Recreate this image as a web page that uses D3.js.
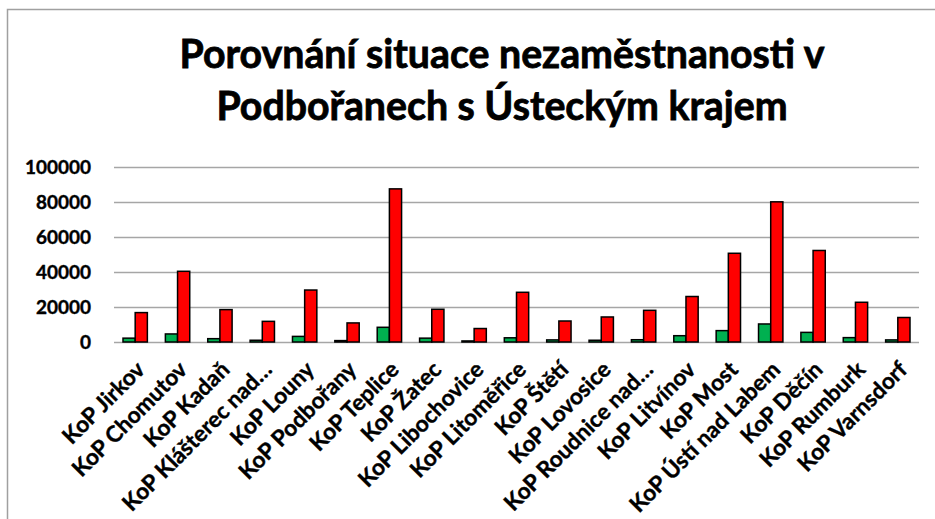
<!DOCTYPE html>
<html>
<head>
<meta charset="utf-8">
<script src="https://cdn.jsdelivr.net/npm/d3@7"></script>
<style>
  body { margin: 0; background: #fff; }
  svg { display: block; font-family: Lato, "Open Sans", sans-serif; font-weight: bold; }
  .grid line { stroke: #a6a6a6; stroke-width: 1.6; }
  .grid path { display: none; }
</style>
</head>
<body>
<div id="chart"></div>
<script>
// categories and the two series (Podbořany vs Ústecký kraj)
var categories = ["KoP Jirkov", "KoP Chomutov", "KoP Kadaň", "KoP Klášterec nad…", "KoP Louny",
  "KoP Podbořany", "KoP Teplice", "KoP Žatec", "KoP Libochovice", "KoP Litoměřice", "KoP Štětí",
  "KoP Lovosice", "KoP Roudnice nad…", "KoP Litvínov", "KoP Most", "KoP Ústí nad Labem",
  "KoP Děčín", "KoP Rumburk", "KoP Varnsdorf"];
var green = [2200, 4600, 1900, 1000, 3200, 800, 8400, 2200, 600, 2400, 1200, 1000, 1300, 3600, 6500, 10300, 5500, 2500, 1200];
var red = [16800, 40400, 18500, 11800, 29700, 10900, 87500, 18700, 7700, 28400, 12000, 14300, 18100, 26000, 50700, 80100, 52300, 22700, 14000];
var yTicks = [0, 20000, 40000, 60000, 80000, 100000];
var titleLines = ["Porovnání situace nezaměstnanosti v", "Podbořanech s Ústeckým krajem"];

var w = 935, h = 519;
var margin = {left: 114, right: 16, top: 167, bottom: 177};

var svg = d3.select("#chart").append("svg")
  .attr("width", w).attr("height", h);

// chart frame (only left and top visible)
svg.append("path")
  .attr("d", "M7.5," + h + "V9.5H" + w)
  .attr("fill", "none")
  .attr("stroke", "#a0a0a0")
  .attr("stroke-width", 1.5);

var title = svg.append("g")
  .attr("stroke", "#000")
  .attr("stroke-width", 0.8);
titleLines.forEach(function(t, i) {
  title.append("text")
    .attr("x", 502).attr("y", 68 + i * 52)
    .attr("text-anchor", "middle")
    .attr("font-size", 36)
    .text(t);
});
// scale title so the first line has the width seen in the picture
var tw = title.select("text").node().getComputedTextLength();
title.selectAll("text").attr("font-size", 36 * 645 / tw);

var x = d3.scaleBand()
  .domain(categories)
  .range([margin.left, w - margin.right])
  .paddingInner(0.425)
  .paddingOuter(0.2125);

var xs = d3.scaleBand().domain(["g", "r"]).range([0, x.bandwidth()]);

var y = d3.scaleLinear()
  .domain([0, 100000])
  .range([h - margin.bottom, margin.top]);

// gridlines + y labels
var yAxis = svg.append("g")
  .attr("class", "grid")
  .attr("transform", "translate(" + margin.left + ",0)")
  .call(d3.axisLeft(y).tickValues(yTicks).tickSize(-(w - margin.right - margin.left)).tickPadding(23).tickFormat(d3.format("d")));
yAxis.selectAll("text")
  .attr("fill", "#000")
  .attr("stroke", "#000")
  .attr("stroke-width", 0.4)
  .attr("font-family", "Lato, sans-serif")
  .attr("font-weight", "bold")
  .attr("font-size", 19);
var lw = yAxis.selectAll("text").filter(function(d) { return d === 100000; }).node().getComputedTextLength();
yAxis.selectAll("text").attr("font-size", 19 * 66 / lw);

// bars
var group = svg.append("g").selectAll("g")
  .data(categories)
  .enter().append("g")
  .attr("transform", function(d) { return "translate(" + x(d) + ",0)"; });

group.append("rect")
  .attr("x", xs("g"))
  .attr("width", xs.bandwidth())
  .attr("y", function(d, i) { return y(green[i]); })
  .attr("height", function(d, i) { return y(0) - y(green[i]); })
  .attr("fill", "#00b050")
  .attr("stroke", "#000")
  .attr("stroke-width", 1.5);

group.append("rect")
  .attr("x", xs("r"))
  .attr("width", xs.bandwidth())
  .attr("y", function(d, i) { return y(red[i]); })
  .attr("height", function(d, i) { return y(0) - y(red[i]); })
  .attr("fill", "#ff0000")
  .attr("stroke", "#000")
  .attr("stroke-width", 1.5);

// category labels, rotated
var labels = svg.append("g")
  .attr("stroke", "#000")
  .attr("stroke-width", 0.4)
  .selectAll("text")
  .data(categories)
  .enter().append("text")
  .attr("text-anchor", "end")
  .attr("font-size", 19)
  .attr("transform", function(d) {
    var cx = x(d) + x.bandwidth() / 2;
    return "translate(" + (cx + 11) + "," + (y(0) + 29) + ") rotate(-45)";
  })
  .text(function(d) { return d; });
var jw = labels.filter(function(d) { return d === "KoP Ústí nad Labem"; }).node().getComputedTextLength();
labels.attr("font-size", 19 * 202 / jw);
</script>
</body>
</html>
